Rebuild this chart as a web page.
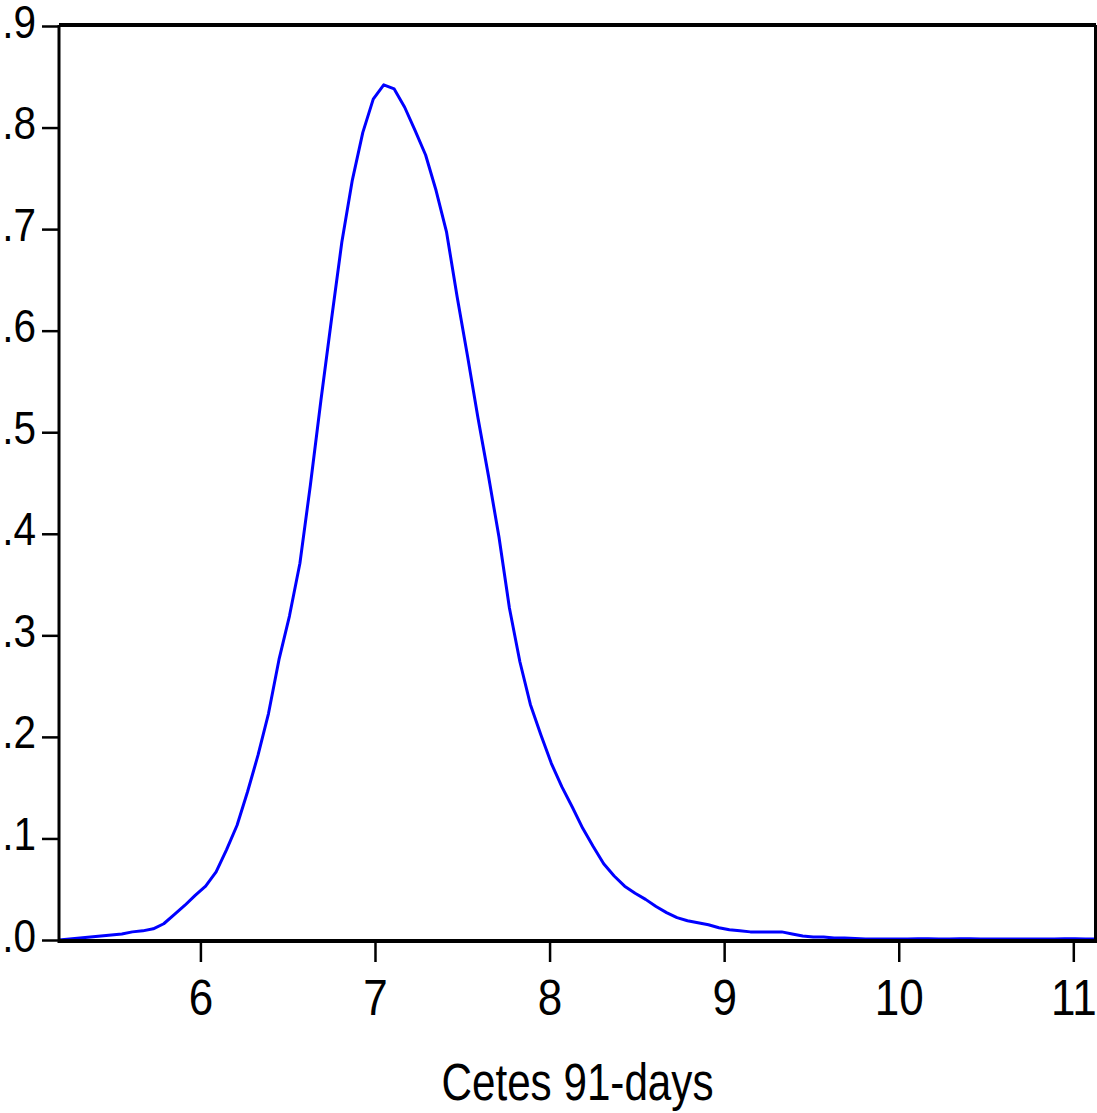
<!DOCTYPE html>
<html>
<head>
<meta charset="utf-8">
<script src="https://cdn.jsdelivr.net/npm/d3@7"></script>
<style>
  html, body { margin: 0; padding: 0; background: #fff; }
  text { font-family: "Liberation Sans", Arial, sans-serif; fill: #000; }
</style>
</head>
<body>
<div class="canvas"></div>
<script>
// kernel density grid: 100 points, start 5.19, step 0.06
const xStart = 5.19;
const xStep = 0.06;
const density = [
  0.000, 0.001, 0.002, 0.003, 0.004, 0.005, 0.006, 0.008, 0.009, 0.011,
  0.016, 0.025, 0.034, 0.044, 0.053, 0.067, 0.089, 0.113, 0.146, 0.182,
  0.223, 0.276, 0.319, 0.371, 0.448, 0.531, 0.610, 0.687, 0.748, 0.795,
  0.828, 0.842, 0.838, 0.820, 0.797, 0.773, 0.738, 0.697, 0.634, 0.575,
  0.514, 0.457, 0.397, 0.327, 0.274, 0.232, 0.202, 0.174, 0.151, 0.131,
  0.110, 0.092, 0.075, 0.063, 0.053, 0.046, 0.040, 0.033, 0.027, 0.022,
  0.019, 0.017, 0.015, 0.012, 0.010, 0.009, 0.008, 0.008, 0.008, 0.008,
  0.006, 0.004, 0.003, 0.003, 0.002, 0.002, 0.0015, 0.001, 0.001, 0.001,
  0.001, 0.001, 0.0012, 0.0012, 0.001, 0.001, 0.0012, 0.0012, 0.001, 0.001,
  0.001, 0.001, 0.001, 0.001, 0.001, 0.001, 0.0012, 0.0012, 0.001, 0.001
];
const xTicks = [6, 7, 8, 9, 10, 11];
const yTicks = [0, 0.1, 0.2, 0.3, 0.4, 0.5, 0.6, 0.7, 0.8, 0.9];
const xTitle = 'Cetes 91-days';

const dims = { width: 1097, height: 1113 };
const plot = { left: 59, right: 1096, top: 25, bottom: 940 };
// the original glyphs are a little narrower than Liberation Sans
const squeeze = 0.88;

const data = density.map((d, i) => ({ x: xStart + i * xStep, y: d }));

const svg = d3
  .select('.canvas')
  .append('svg')
  .attr('width', dims.width)
  .attr('height', dims.height);

const x = d3
  .scaleLinear()
  .domain([xStart, xStart + (density.length - 1) * xStep])
  .range([plot.left, plot.right]);

const y = d3
  .scaleLinear()
  .domain([0, 0.9])
  .range([plot.bottom, plot.top + 1]);

// y axis ticks + labels
const yAxis = d3
  .axisLeft(y)
  .tickValues(yTicks)
  .tickSize(16)
  .tickPadding(6)
  .tickFormat(d => d3.format('.1f')(d).replace(/^0/, ''));

const yG = svg
  .append('g')
  .attr('transform', `translate(${plot.left - 1}, 0)`)
  .call(yAxis);
yG.select('.domain').remove();
yG.selectAll('line').attr('stroke', '#000').attr('stroke-width', 2.5);
yG.selectAll('text')
  .attr('font-size', 46)
  .attr('dy', null)
  .attr('y', 11)
  .attr('x', -22 / squeeze)
  .attr('transform', `scale(${squeeze}, 1)`)
  .style('font-family', '"Liberation Sans", Arial, sans-serif');

// x axis ticks + labels
const xAxis = d3
  .axisBottom(x)
  .tickValues(xTicks)
  .tickSize(20)
  .tickFormat(d3.format('d'));

const xG = svg
  .append('g')
  .attr('transform', `translate(0, ${plot.bottom + 2})`)
  .call(xAxis);
xG.select('.domain').remove();
xG.selectAll('line').attr('stroke', '#000').attr('stroke-width', 2.5);
xG.selectAll('text')
  .attr('font-size', 50)
  .attr('dy', null)
  .attr('y', 73)
  .attr('transform', `scale(${squeeze}, 1)`)
  .style('font-family', '"Liberation Sans", Arial, sans-serif');

// density line
const line = d3
  .line()
  .x(d => x(d.x))
  .y(d => y(d.y));

svg
  .append('path')
  .datum(data)
  .attr('d', line)
  .attr('fill', 'none')
  .attr('stroke', '#0000ff')
  .attr('stroke-width', 3)
  .attr('stroke-linejoin', 'round');

// frame
svg.append('line')
  .attr('x1', plot.left).attr('x2', plot.right)
  .attr('y1', plot.top).attr('y2', plot.top)
  .attr('stroke', '#000').attr('stroke-width', 4);
svg.append('line')
  .attr('x1', plot.left).attr('x2', plot.right)
  .attr('y1', plot.bottom + 1).attr('y2', plot.bottom + 1)
  .attr('stroke', '#000').attr('stroke-width', 4);
svg.append('line')
  .attr('x1', plot.left).attr('x2', plot.left)
  .attr('y1', plot.top).attr('y2', plot.bottom + 3)
  .attr('stroke', '#000').attr('stroke-width', 3);
svg.append('line')
  .attr('x1', plot.right - 0.5).attr('x2', plot.right - 0.5)
  .attr('y1', plot.top).attr('y2', plot.bottom + 3)
  .attr('stroke', '#000').attr('stroke-width', 3);

// axis title
svg
  .append('text')
  .attr('x', (plot.left + plot.right) / 2)
  .attr('y', 1100)
  .attr('text-anchor', 'middle')
  .attr('font-size', 51)
  .attr('textLength', 272)
  .attr('lengthAdjust', 'spacingAndGlyphs')
  .text(xTitle);
</script>
</body>
</html>
